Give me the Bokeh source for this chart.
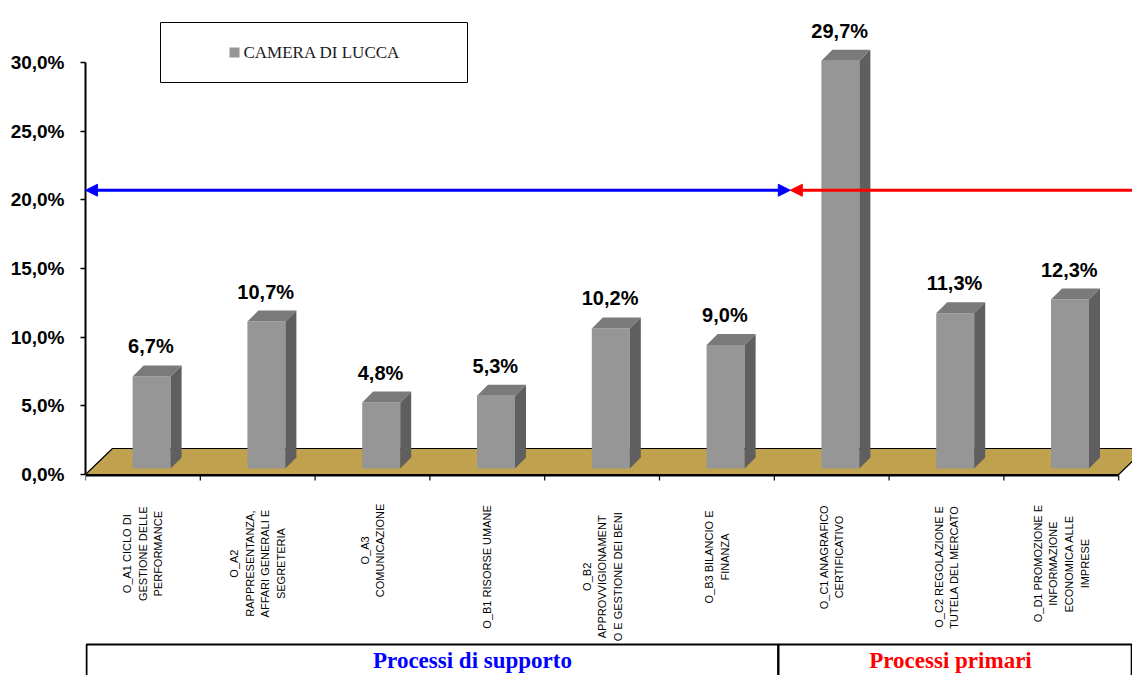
import numpy as np
from bokeh.plotting import figure
from bokeh.models import Range1d, FixedTicker, Arrow, NormalHead
from bokeh.embed import file_html
from bokeh.resources import INLINE
from bokeh.core.properties import value

# ---------------- data ----------------
categories = [
    "O_A1 CICLO DI\nGESTIONE DELLE\nPERFORMANCE",
    "O_A2\nRAPPRESENTANZA,\nAFFARI GENERALI E\nSEGRETERIA",
    "O_A3\nCOMUNICAZIONE",
    "O_B1 RISORSE UMANE",
    "O_B2\nAPPROVVIGIONAMENT\nO E GESTIONE DEI BENI",
    "O_B3 BILANCIO E\nFINANZA",
    "O_C1 ANAGRAFICO\nCERTIFICATIVO",
    "O_C2 REGOLAZIONE E\nTUTELA DEL MERCATO",
    "O_D1 PROMOZIONE E\nINFORMAZIONE\nECONOMICA ALLE\nIMPRESE",
]
values = [6.7, 10.7, 4.8, 5.3, 10.2, 9.0, 29.7, 11.3, 12.3]
series_name = "CAMERA DI LUCCA"
y_ticks = [0, 5, 10, 15, 20, 25, 30]
y_tick_labels = ["0,0%", "5,0%", "10,0%", "15,0%", "20,0%", "25,0%", "30,0%"]
groups = ["Processi di supporto", "Processi primari"]
group_sizes = [6, 3]
group_colors = ["#0000FF", "#FF0000"]
arrow_level = 20.7

# ---------------- geometry helpers (pixels -> data) ----------------
PX = 114.8      # px per category
PY = 13.733     # px per percent
W, H = 1132, 675
LEFT = 85
ZERO = 474      # canvas y of 0 %
x_end = (W - LEFT) / PX
y_top = ZERO / PY
y_bot = -(H - ZERO) / PY

def X(px):
    return px / PX

def Y(px):
    return px / PY

n = len(values)
cx = np.arange(n) + 0.5
vals = np.array(values)

p = figure(width=W, height=H, output_backend="svg", toolbar_location=None,
           x_range=Range1d(0, x_end), y_range=Range1d(y_bot, y_top),
           x_axis_location=None, min_border_left=LEFT, min_border_right=0,
           min_border_top=0, min_border_bottom=0)
p.grid.visible = False
p.outline_line_color = None
p.background_fill_color = "white"
p.border_fill_color = "white"

# y axis
ya = p.yaxis[0]
ya.bounds = (0, 30)
ya.ticker = FixedTicker(ticks=y_ticks)
ya.major_label_overrides = {t: l for t, l in zip(y_ticks, y_tick_labels)}
ya.minor_tick_line_color = None
ya.major_tick_in = 0
ya.major_tick_out = 5
ya.major_tick_line_color = "black"
ya.major_tick_line_width = 1.5
ya.axis_line_color = "black"
ya.axis_line_width = 2
ya.major_label_text_font = "Liberation Sans"
ya.major_label_text_font_style = "bold"
ya.major_label_text_font_size = "19px"
ya.major_label_text_color = "black"
ya.major_label_standoff = 16

# floor (3D base)
fd_x, fd_y = X(27), Y(26)
p.patch([0, fd_x, n + fd_x, n], [0, fd_y, fd_y, 0],
        fill_color="#C0A24E", line_color="black", line_width=1.2)

# x axis line + ticks
p.line([0, n], [-Y(1), -Y(1)], line_color="black", line_width=2)
bx = np.arange(n + 1)
p.segment(x0=bx, y0=np.full(n + 1, -Y(1)), x1=bx, y1=np.full(n + 1, -Y(6)),
          line_color="black", line_width=1.2)

# bars (3D)
base = Y(6)
fl = cx - X(10.3)
fr = cx + X(27.7)
top = vals + base
ddx, ddy = X(11), Y(11)
p.quad(left=fl, right=fr, bottom=base, top=top, fill_color="#969696", line_color=None)
side_xs = [[r, r + ddx, r + ddx, r] for r in fr]
side_ys = [[base, base + ddy, t + ddy, t] for t in top]
p.patches(side_xs, side_ys, fill_color="#5F5F5F", line_color=None)
top_xs = [[l, l + ddx, r + ddx, r] for l, r in zip(fl, fr)]
top_ys = [[t, t + ddy, t + ddy, t] for t in top]
p.patches(top_xs, top_ys, fill_color="#7A7A7A", line_color=None)

# value labels
vlab = [f"{v:.1f}".replace(".", ",") + "%" for v in values]
p.text(x=cx + X(8), y=top, text=vlab, y_offset=-30,
       text_align="center", text_baseline="middle",
       text_font=value("Liberation Sans"), text_font_style="bold",
       text_font_size="20px", text_color="black")

# category labels (rotated)
maxlen = np.array([max(len(s) for s in c.split("\n")) for c in categories])
lab_y = -Y(33) - Y(maxlen * 6.6 / 2)
p.text(x=cx, y=lab_y, text=categories, angle=np.pi / 2,
       text_align="center", text_baseline="middle",
       text_font=value("Liberation Sans"), text_font_size="11px",
       text_line_height=1.3, text_color="black")

# legend box (manual)
p.quad(left=X(75), right=X(382), bottom=Y(ZERO - 82), top=Y(ZERO - 22),
       fill_color="white", line_color="black", line_width=1)
p.scatter(x=[X(149)], y=[Y(ZERO - 52)], marker="square", size=10,
          fill_color="#969696", line_color=None)
p.text(x=[X(158)], y=[Y(ZERO - 52)], text=[series_name], text_align="left",
       text_baseline="middle", text_font=value("Liberation Serif"),
       text_font_size="17px", text_color="#1a1a1a")

# arrows
split = group_sizes[0] + X(16)
p.add_layout(Arrow(start=NormalHead(size=12, fill_color="#0000FF", line_color="#0000FF"),
                   end=NormalHead(size=12, fill_color="#0000FF", line_color="#0000FF"),
                   x_start=0, y_start=arrow_level, x_end=split, y_end=arrow_level,
                   line_color="#0000FF", line_width=3))
p.add_layout(Arrow(start=NormalHead(size=12, fill_color="#FF0000", line_color="#FF0000"),
                   end=None,
                   x_start=split, y_start=arrow_level, x_end=n + 0.3, y_end=arrow_level,
                   line_color="#FF0000", line_width=3))

# ---------------- bottom group box ----------------
box_top = -Y(644 - ZERO)
edges = [X(1), group_sizes[0] + X(4), n + X(13)]
p.quad(left=edges[:-1], right=edges[1:], bottom=[y_bot - 2] * 2, top=[box_top] * 2,
       fill_color=None, line_color="black", line_width=2)
p.text(x=[X(472 - LEFT), X(950 - LEFT)], y=[-Y(660 - ZERO)] * 2, text=groups,
       text_color=group_colors, text_align="center", text_baseline="middle",
       text_font=value("Liberation Serif"), text_font_style="bold",
       text_font_size="23px")

open("out.html", "w").write(file_html(p, INLINE))
